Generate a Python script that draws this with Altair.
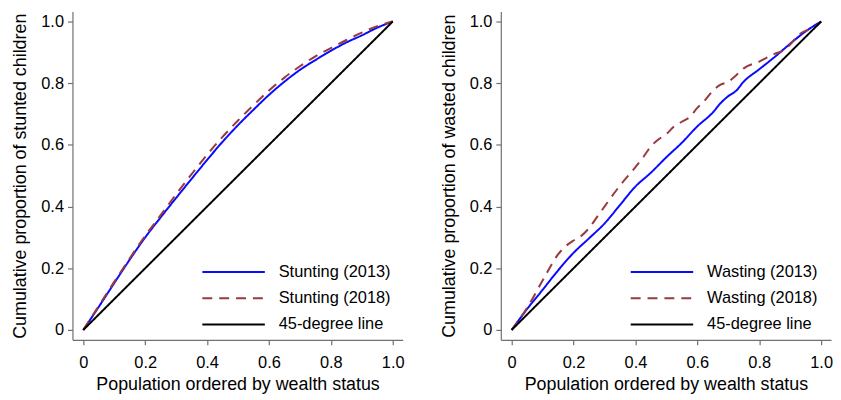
import altair as alt
import pandas as pd

# ---------------- data ----------------
grid = [0, 0.05, 0.1, 0.15, 0.2, 0.25, 0.3, 0.35, 0.4, 0.45, 0.5,
        0.55, 0.6, 0.65, 0.7, 0.75, 0.8, 0.85, 0.9, 0.95, 1.0]
stunting_2013 = [0, 0.075, 0.152, 0.228, 0.300, 0.365, 0.428, 0.490, 0.551, 0.610, 0.664,
                 0.714, 0.762, 0.805, 0.843, 0.875, 0.905, 0.932, 0.955, 0.980, 1.0]
stunting_2018 = [0, 0.078, 0.156, 0.232, 0.305, 0.372, 0.440, 0.505, 0.568, 0.626, 0.679,
                 0.729, 0.776, 0.818, 0.855, 0.887, 0.914, 0.940, 0.964, 0.985, 1.0]

wasting_2013_x = [0, 0.05, 0.1, 0.15, 0.2, 0.25, 0.3, 0.35, 0.4, 0.45, 0.5, 0.55, 0.6,
                  0.65, 0.675, 0.7, 0.725, 0.75, 0.8, 0.85, 0.9, 0.95, 1.0]
wasting_2013 = [0, 0.068, 0.130, 0.193, 0.250, 0.297, 0.345, 0.405, 0.465, 0.510, 0.560,
                0.607, 0.660, 0.705, 0.735, 0.758, 0.775, 0.805, 0.845, 0.885, 0.928, 0.968, 1.0]

wasting_2018_x = [0, 0.05, 0.1, 0.15, 0.175, 0.2, 0.225, 0.25, 0.275, 0.3, 0.35, 0.4, 0.425,
                  0.45, 0.475, 0.5, 0.525, 0.55, 0.575, 0.6, 0.625, 0.65, 0.675, 0.7, 0.725,
                  0.75, 0.8, 0.85, 0.875, 0.9, 0.925, 0.95, 0.975, 1.0]
wasting_2018 = [0, 0.072, 0.160, 0.245, 0.272, 0.290, 0.305, 0.330, 0.365, 0.400, 0.468,
                0.528, 0.560, 0.595, 0.618, 0.635, 0.660, 0.675, 0.690, 0.720, 0.745, 0.775,
                0.795, 0.805, 0.825, 0.848, 0.870, 0.895, 0.905, 0.925, 0.955, 0.970, 0.978, 1.0]

diagonal = [0.0, 1.0]

stunting_names = ["Stunting (2013)", "Stunting (2018)", "45-degree line"]
wasting_names = ["Wasting (2013)", "Wasting (2018)", "45-degree line"]
tick_values = [0, 0.2, 0.4, 0.6, 0.8, 1.0]
x_title = "Population ordered by wealth status"
y_titles = ["Cumulative proportion of stunted children",
            "Cumulative proportion of wasted children"]

line_colors = ["#0a0aff", "#983a3e", "#000000"]
line_dashes = [[1, 0], [10, 7], [1, 0]]

FONT = "Liberation Sans"
LABEL_FS = 16.5
TITLE_FS = 18


def build_frame(names, series):
    rows = []
    for name, (xs, ys) in zip(names, series):
        for i, (a, b) in enumerate(zip(xs, ys)):
            rows.append({"series": name, "x": a, "y": b, "order": i})
    return pd.DataFrame(rows)


label_expr = "datum.value == 0 ? '0' : format(datum.value, '.1f')"


def panel(df, names, ytitle):
    legend = alt.Legend(
        orient="none", legendX=151, legendY=251, title=None,
        symbolType="M-3,0H3", symbolSize=441, symbolStrokeWidth=2,
        labelFontSize=LABEL_FS, labelFont=FONT, labelColor="black",
        labelOffset=34, rowPadding=6.5, padding=0,
    )
    return alt.Chart(df).mark_line(strokeWidth=2, interpolate="monotone").encode(
        x=alt.X("x:Q",
                scale=alt.Scale(domain=[-0.035, 1.032], nice=False, zero=False),
                axis=alt.Axis(values=tick_values, title=x_title, labelExpr=label_expr,
                              labelPadding=10, titlePadding=5)),
        y=alt.Y("y:Q",
                scale=alt.Scale(domain=[-0.032, 1.032], nice=False, zero=False),
                axis=alt.Axis(values=tick_values, title=ytitle, labelExpr=label_expr,
                              labelPadding=4, titlePadding=11)),
        color=alt.Color("series:N", sort=names,
                        scale=alt.Scale(domain=names, range=line_colors), legend=legend),
        strokeDash=alt.StrokeDash("series:N", sort=names,
                                  scale=alt.Scale(domain=names, range=line_dashes), legend=legend),
        order=alt.Order("order:Q"),
    ).properties(width=333, height=331)


left_df = build_frame(stunting_names,
                      [(grid, stunting_2013), (grid, stunting_2018), (diagonal, diagonal)])
right_df = build_frame(wasting_names,
                       [(wasting_2013_x, wasting_2013), (wasting_2018_x, wasting_2018),
                        (diagonal, diagonal)])

chart = alt.hconcat(
    panel(left_df, stunting_names, y_titles[0]),
    panel(right_df, wasting_names, y_titles[1]),
    spacing=36,
).resolve_scale(
    color="independent", strokeDash="independent"
).properties(
    padding={"left": 4, "top": 2, "right": 0, "bottom": 0}
).configure_view(
    stroke=None
).configure_axis(
    grid=False,
    domainColor="#707070", domainWidth=1.2,
    tickColor="#707070", tickSize=5, tickWidth=1.2,
    labelFont=FONT, labelFontSize=LABEL_FS, labelColor="black",
    titleFont=FONT, titleFontSize=TITLE_FS, titleColor="black", titleFontWeight="normal",
)

chart.save("out.html", embed_options={"renderer": "svg", "actions": False})
